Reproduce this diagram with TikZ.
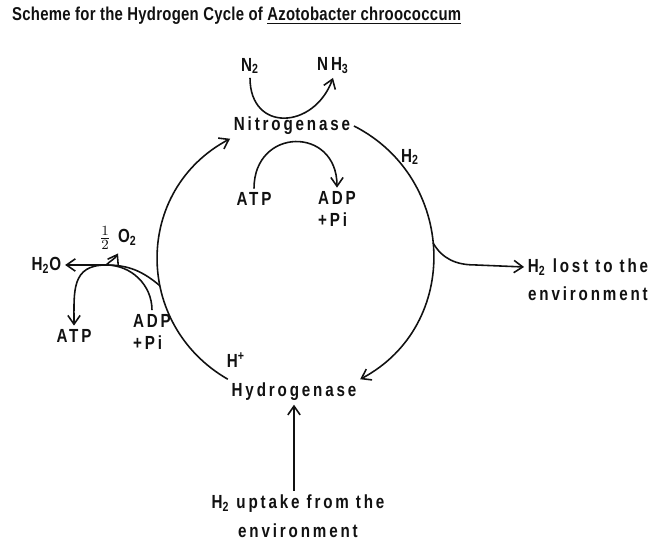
\documentclass[tikz,border=0pt]{standalone}
\usepackage{fontspec}
\usepackage{tikz}
\usetikzlibrary{arrows.meta,calc}
\setmainfont{Liberation Sans}
\newfontfamily\titleFont{Liberation Sans Bold}[FakeStretch=0.8,LetterSpace=1.5]
\newfontfamily\labelFont{Liberation Sans Bold}[FakeStretch=0.8,LetterSpace=15]
\definecolor{inkBlack}{HTML}{111111}

\begin{document}
\begin{tikzpicture}[inkBlack,
  lbl/.style={font=\labelFont\fontsize{10.8}{12.5}\selectfont,inner sep=2pt},
  flow/.style={line width=0.9pt},
  arr/.style={flow,-{Straight Barb[length=5pt,width=7pt,line width=0.9pt]}}]
\useasboundingbox (0,0) rectangle (13.1,10.86);
\node[anchor=west,font=\titleFont\fontsize{10.6}{12.5}\selectfont] (title) at (0.12,10.54)
  {Scheme for the Hydrogen Cycle of \underline{Azotobacter chroococcum}};
\node[lbl] (n2) at (5.00,9.54) {N\textsubscript{2}};
\node[lbl] (nh3) at (6.66,9.54) {NH\textsubscript{3}};
\node[lbl] (nitro) at (5.84,8.34) {Nitrogenase};
\node[lbl] (h2top) at (8.20,7.72) {H\textsubscript{2}};
\node[lbl] (atpN) at (5.08,6.88) {ATP};
\node[lbl,align=left] (adpN) at (6.74,6.68) {ADP\\+Pi};
\node[lbl] (h2o) at (0.93,5.56) {H\textsubscript{2}O};
\node[lbl] (o2) at (2.36,6.10) {$\frac{1}{2}$ O\textsubscript{2}};
\node[lbl] (atpW) at (1.48,4.14) {ATP};
\node[lbl,align=left] (adpW) at (3.04,4.23) {ADP\\+Pi};
\node[lbl] (lost) at (11.76,5.52) {H\textsubscript{2} lost to the};
\node[lbl] (lostEnv) at (11.76,4.98) {environment};
\node[lbl] (hplus) at (4.72,3.66) {H\textsuperscript{+}};
\node[lbl] (hydro) at (5.88,3.02) {Hydrogenase};
\node[lbl,align=center] (uptake) at (5.96,0.54) {H\textsubscript{2} uptake from the\\[4pt]environment};

% the two halves of the cycle
\draw[arr] (nitro.east) to[out=-27,in=28,looseness=1.16] coordinate[pos=0.47] (rimE) (hydro.north east);
\draw[arr] (hydro.north west) to[out=150,in=-152,looseness=1.16] coordinate[pos=0.4] (rimW) (nitro.south west);

\draw[arr] (n2.south) to[out=-90,in=-110,looseness=1.7] (nh3.south);
\draw[arr] (atpN.north) to[out=90,in=90,looseness=1.9] (adpN.north);

% side branches
\draw[arr] (rimE) to[out=-60,in=180] ++(0.84,-0.44) -- (lost.west);
\coordinate (split) at ($(h2o.east)+(0.82,0)$);
\draw[arr] (rimW) to[out=140,in=0] (split) -- (h2o.east);
\draw[flow] (adpW.north) to[out=90,in=0] (split);
\draw[arr] (split) to[out=45,in=-120] (o2.south);
\draw[arr] (split) to[out=180,in=90,looseness=1.3] (atpW.north);

\draw[arr] (uptake.north -| hydro.south) -- (hydro.south);
\end{tikzpicture}
\end{document}
